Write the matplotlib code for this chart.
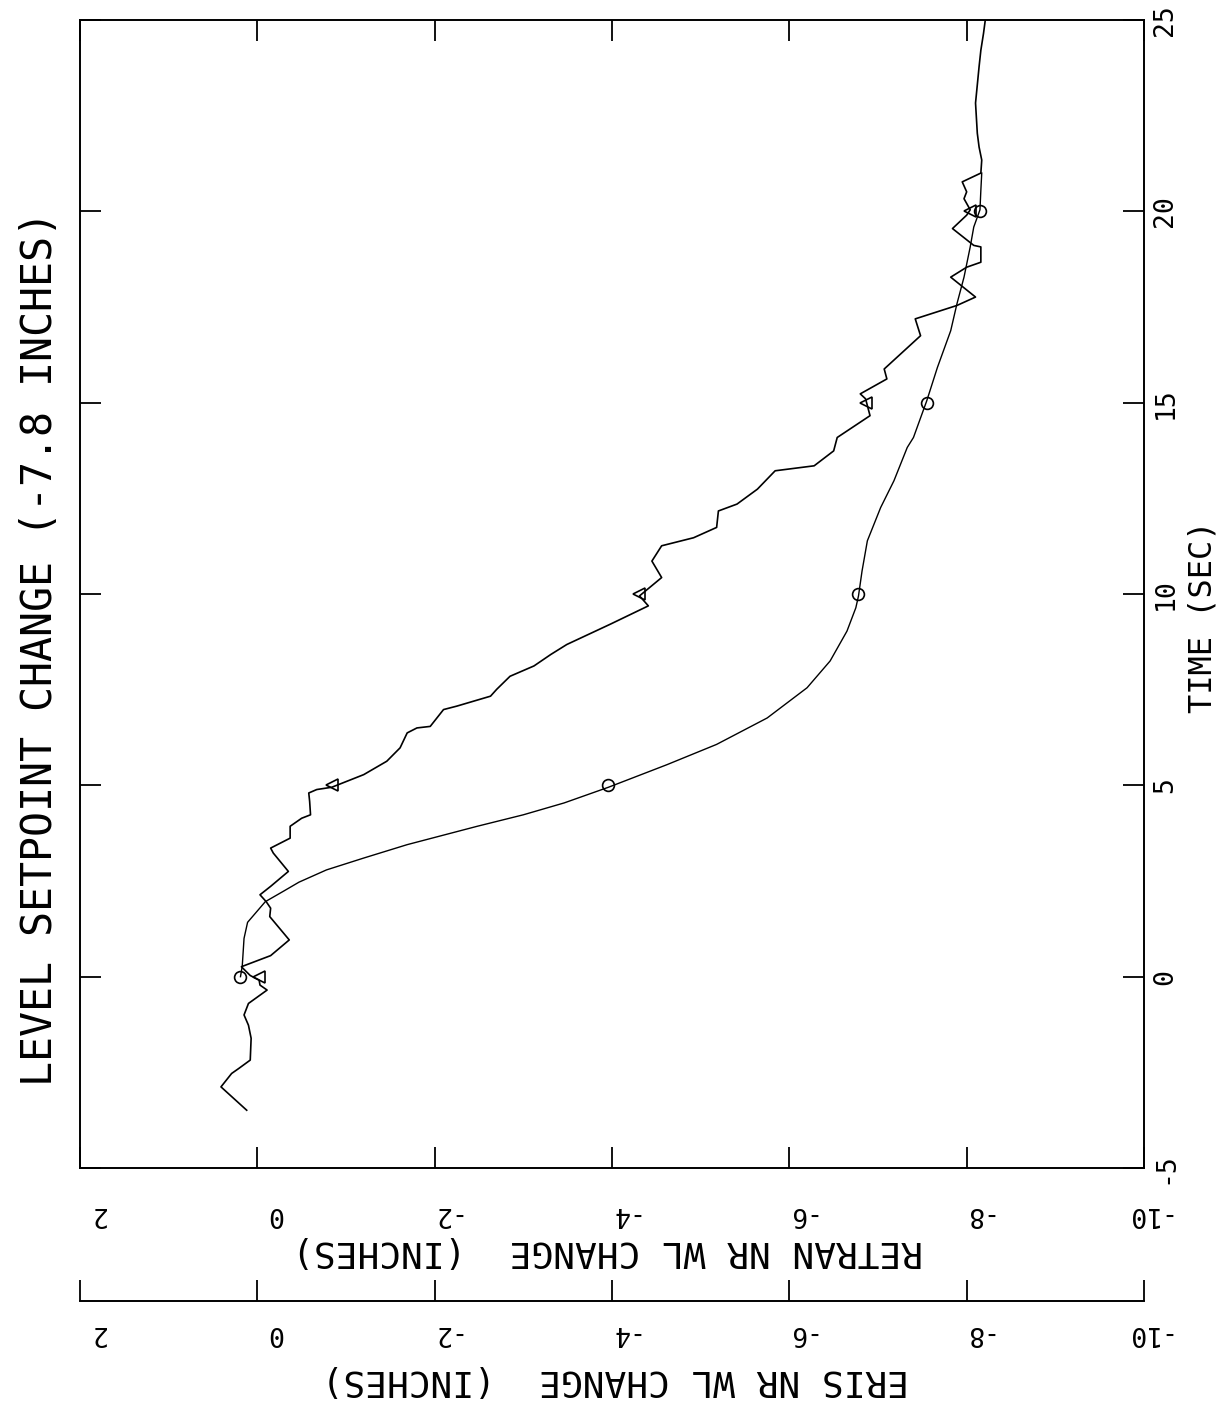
import matplotlib
matplotlib.use("Agg")
import matplotlib.pyplot as plt
import matplotlib.transforms as mtransforms

plt.rcParams['font.family'] = ['DejaVu Sans Mono', 'DejaVu Sans']

# ---------------- data (time in s, water level change in inches) ----------------
eris_t = [-3.49, -2.88, -2.53, -2.40, -2.18, -1.61, -1.27, -1.00, -0.70, -0.35, -0.22,
          -0.09, 0.03, 0.26, 0.55, 0.96, 1.57, 1.79, 1.96, 2.14, 2.36, 2.75, 3.23, 3.36,
          3.62, 3.93, 4.14, 4.23, 4.58, 4.80, 4.89, 4.95, 5.28, 5.63, 5.98, 6.37, 6.50,
          6.54, 6.98, 7.07, 7.33, 7.51, 7.85, 8.12, 8.42, 8.68, 9.21, 9.69, 9.95, 10.43,
          10.86, 11.26, 11.47, 11.74, 12.17, 12.35, 12.74, 13.22, 13.35, 13.74, 14.09,
          14.66, 15.10, 15.23, 15.62, 15.88, 16.75, 17.19, 17.54, 17.76, 18.28, 18.54,
          18.67, 19.07, 19.11, 19.55, 19.90, 20.04, 20.33, 20.51, 20.77, 21.00, 21.34,
          21.68, 22.04, 22.83, 23.78, 24.21, 24.65, 25.00]
eris_v = [0.12, 0.41, 0.29, 0.21, 0.08, 0.07, 0.10, 0.15, 0.10, -0.11, -0.03,
          -0.02, 0.08, 0.18, -0.15, -0.36, -0.14, -0.15, -0.10, -0.03, -0.15, -0.35, -0.18, -0.15,
          -0.37, -0.37, -0.50, -0.60, -0.59, -0.58, -0.67, -0.84, -1.20, -1.46, -1.61, -1.69, -1.80,
          -1.95, -2.10, -2.25, -2.63, -2.70, -2.85, -3.12, -3.31, -3.49, -3.98, -4.41, -4.31, -4.56,
          -4.45, -4.56, -4.92, -5.18, -5.20, -5.41, -5.64, -5.84, -6.28, -6.50, -6.54,
          -6.91, -6.86, -6.80, -7.10, -7.07, -7.48, -7.42, -7.89, -8.10, -7.82, -8.00,
          -8.16, -8.16, -8.08, -7.84, -8.00, -8.04, -7.97, -8.00, -7.95, -8.16, -8.17,
          -8.14, -8.12, -8.10, -8.14, -8.16, -8.19, -8.21]

retran_t = [0.0, 0.28, 1.0, 1.42, 1.96, 2.24, 2.47, 2.79, 3.10, 3.45, 3.93, 4.23, 4.54,
            4.95, 5.37, 5.54, 6.07, 6.76, 7.55, 8.25, 9.03, 9.64, 9.95, 10.60, 11.39,
            12.26, 12.96, 13.83, 14.09, 15.05, 15.92, 16.88, 17.58, 18.28, 19.07, 19.59,
            20.04, 20.55, 21.0]
retran_v = [0.19, 0.17, 0.15, 0.11, -0.09, -0.30, -0.47, -0.78, -1.20, -1.69, -2.48, -3.00, -3.46,
            -3.96, -4.43, -4.62, -5.18, -5.75, -6.20, -6.46, -6.65, -6.75, -6.78, -6.82, -6.88,
            -7.03, -7.18, -7.33, -7.40, -7.55, -7.67, -7.82, -7.89, -7.97, -8.04, -8.08,
            -8.15, -8.16, -8.17]

eris_mark_t = [0, 5, 10, 15, 20]
eris_mark_v = [-0.02, -0.84, -4.31, -6.86, -8.04]
retran_mark_t = [0, 5, 10, 15, 20]
retran_mark_v = [0.19, -3.96, -6.78, -7.55, -8.15]

value_ticks = [2, 0, -2, -4, -6, -8, -10]
value_labels = ['2', '0', '-2', '-4', '-6', '-8', '-10']
time_ticks = [-5, 0, 5, 10, 15, 20, 25]
time_labels = ['-5', '0', '5', '10', '15', '20', '25']

title_left = "LEVEL SETPOINT CHANGE (-7.8 INCHES)"
time_title = "TIME (SEC)"
retran_title = "RETRAN NR WL CHANGE  (INCHES)"
eris_title = "ERIS NR WL CHANGE  (INCHES)"

# ---------------- figure ----------------
W, H = 1231, 1401
fig = plt.figure(figsize=(W / 100, H / 100), dpi=100)
fig.patch.set_facecolor('white')


def fx(px):
    return px / W


def fy(py):
    return 1 - py / H


L, R, T, B = 80, 1144, 20, 1168
ax = fig.add_axes([fx(L), fy(B), fx(R) - fx(L), fy(T) - fy(B)])
ax.plot(eris_v, eris_t, color='black', lw=1.2)
ax.plot(retran_v, retran_t, color='black', lw=1.0)
ax.plot(eris_mark_v, eris_mark_t, ls='none', marker='<', ms=8.5, mfc='none', mec='black', mew=1.2)
ax.plot(retran_mark_v, retran_mark_t, ls='none', marker='o', ms=8.5, mfc='none', mec='black', mew=1.2)
ax.set_xlim(2, -10)
ax.set_ylim(-5, 25)
for s in ax.spines.values():
    s.set_linewidth(1.4)

ax.set_xticks(value_ticks)
ax.set_xticklabels(value_labels)
ax.set_yticks(time_ticks)
ax.set_yticklabels(time_labels)
ax.tick_params(direction='in', length=15, width=1.3, top=True, bottom=True, left=True, right=True,
               labelleft=False, labelright=True, labelbottom=True, labeltop=False)
ax.tick_params(axis='x', pad=24, labelsize=19)
ax.tick_params(axis='y', pad=6, labelsize=19)
shift = mtransforms.ScaledTranslation(25 / 100, 0, fig.dpi_scale_trans)
for lab in ax.get_xticklabels():
    lab.set_rotation(180)
    lab.set_ha('right')
    lab.set_va('top')
    lab.set_transform(lab.get_transform() + shift)
for lab in ax.get_yticklabels():
    lab.set_rotation(90)
    lab.set_va('center')
    lab.set_ha('left')

# second (ERIS) scale
ax2 = fig.add_axes([fx(L), fy(1301), fx(R) - fx(L), 0.001])
ax2.patch.set_visible(False)
ax2.set_xlim(2, -10)
ax2.set_ylim(0, 1)
for s in ['top', 'left', 'right']:
    ax2.spines[s].set_visible(False)
ax2.spines['bottom'].set_linewidth(1.4)
ax2.set_yticks([])
ax2.set_xticks(value_ticks)
ax2.set_xticklabels(value_labels)
ax2.tick_params(axis='x', direction='in', length=15, width=1.3, pad=14, labelsize=19)
shift2 = mtransforms.ScaledTranslation(25 / 100, 0, fig.dpi_scale_trans)
for lab in ax2.get_xticklabels():
    lab.set_rotation(180)
    lab.set_ha('right')
    lab.set_va('top')
    lab.set_transform(lab.get_transform() + shift2)

# titles
fig.text(fx(40), fy(648), title_left, rotation=90, ha='center', va='center', fontsize=30)
fig.text(fx(1203), fy(617), time_title, rotation=90, ha='center', va='center', fontsize=23)
fig.text(fx(608), fy(1251), retran_title, rotation=180, ha='center', va='center', fontsize=26)
fig.text(fx(615), fy(1380), eris_title, rotation=180, ha='center', va='center', fontsize=26)

fig.savefig('out.png', dpi=100, facecolor='white')
